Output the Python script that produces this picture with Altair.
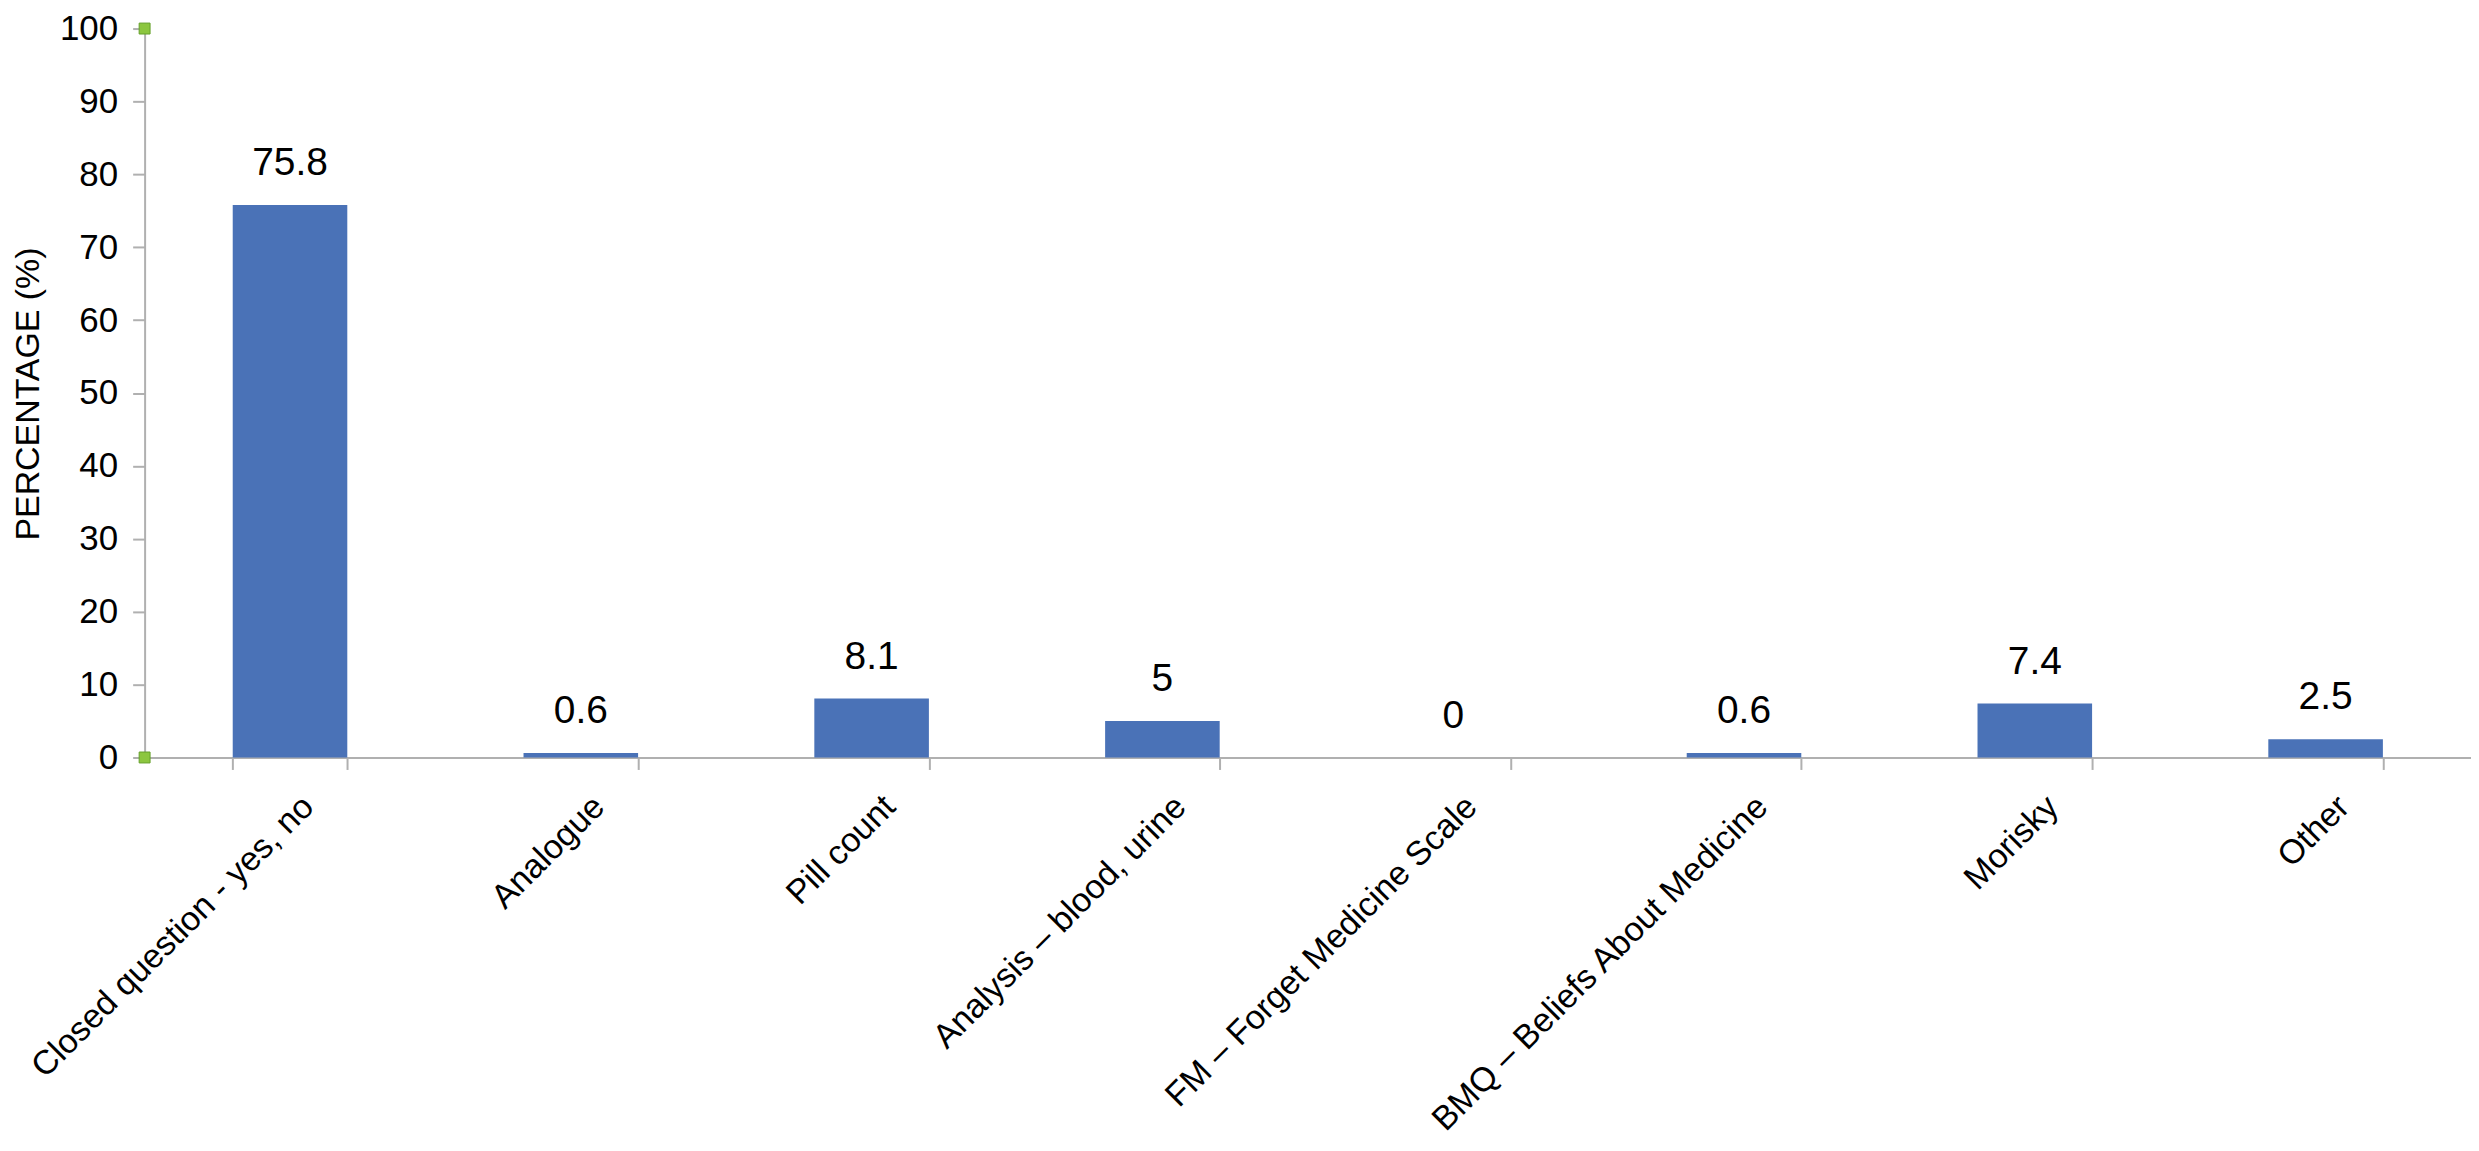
import altair as alt
import pandas as pd

categories = [
    "Closed question - yes, no",
    "Analogue",
    "Pill count",
    "Analysis \u2013 blood, urine",
    "FM \u2013 Forget Medicine Scale",
    "BMQ \u2013 Beliefs About Medicine",
    "Morisky",
    "Other",
]
values = [75.8, 0.6, 8.1, 5, 0, 0.6, 7.4, 2.5]
labels = [f"{v:g}" for v in values]
y_ticks = list(range(0, 101, 10))
handle_values = [0, 100]

df = pd.DataFrame({"cat": categories, "val": values, "lab": labels})
handles = pd.DataFrame({"val": handle_values})

FONT = "Liberation Sans"
AXIS_GREY = "#b0b0b0"

x_scale = alt.Scale(paddingInner=0.606, paddingOuter=0.303)
y_scale = alt.Scale(domain=[0, 100], nice=False, zero=True)

x_axis = alt.Axis(
    title=None,
    labelAngle=-45,
    labelFontSize=34,
    labelFont=FONT,
    labelColor="black",
    labelPadding=20,
    labelOffset=6,
    labelLimit=1000,
    tickBand="extent",
    tickSize=12,
    tickWidth=2,
    tickColor=AXIS_GREY,
    domainColor=AXIS_GREY,
    domainWidth=2,
    grid=False,
)

y_axis = alt.Axis(
    values=y_ticks,
    grid=False,
    title="PERCENTAGE (%)",
    titleFont=FONT,
    titleFontSize=34,
    titleFontWeight="normal",
    titleColor="black",
    titleX=-106,
    titleY=366,
    titleBaseline="alphabetic",
    titleAlign="center",
    labelFont=FONT,
    labelFontSize=35,
    labelColor="black",
    labelPadding=15,
    tickSize=12,
    tickWidth=2,
    tickColor=AXIS_GREY,
    domainColor=AXIS_GREY,
    domainWidth=2,
)

x_enc = alt.X("cat:N", sort=None, scale=x_scale, axis=x_axis)
y_enc = alt.Y("val:Q", scale=y_scale, axis=y_axis)

bars = alt.Chart(df).mark_bar(color="#4a72b7").encode(x=x_enc, y=y_enc)

texts = alt.Chart(df).mark_text(
    dy=-30, baseline="alphabetic", align="center", fontSize=39, font=FONT, color="black"
).encode(x=x_enc, y=y_enc, text="lab:N")

marks = alt.Chart(handles).mark_point(
    shape="square", size=120, filled=True, fill="#8cc63f", stroke="#64a02a", strokeWidth=1, opacity=1
).encode(x=alt.value(0), y=y_enc)

chart = (
    alt.layer(bars, texts, marks)
    .properties(
        width=2333,
        height=731,
        background="white",
        autosize=alt.AutoSizeParams(type="none"),
        padding={"left": 137, "top": 19, "right": 0, "bottom": 385},
    )
    .configure_view(strokeWidth=0, stroke="transparent")
    .configure_axis(grid=False)
)

chart.save("out.html", embed_options={"renderer": "svg", "actions": False})
